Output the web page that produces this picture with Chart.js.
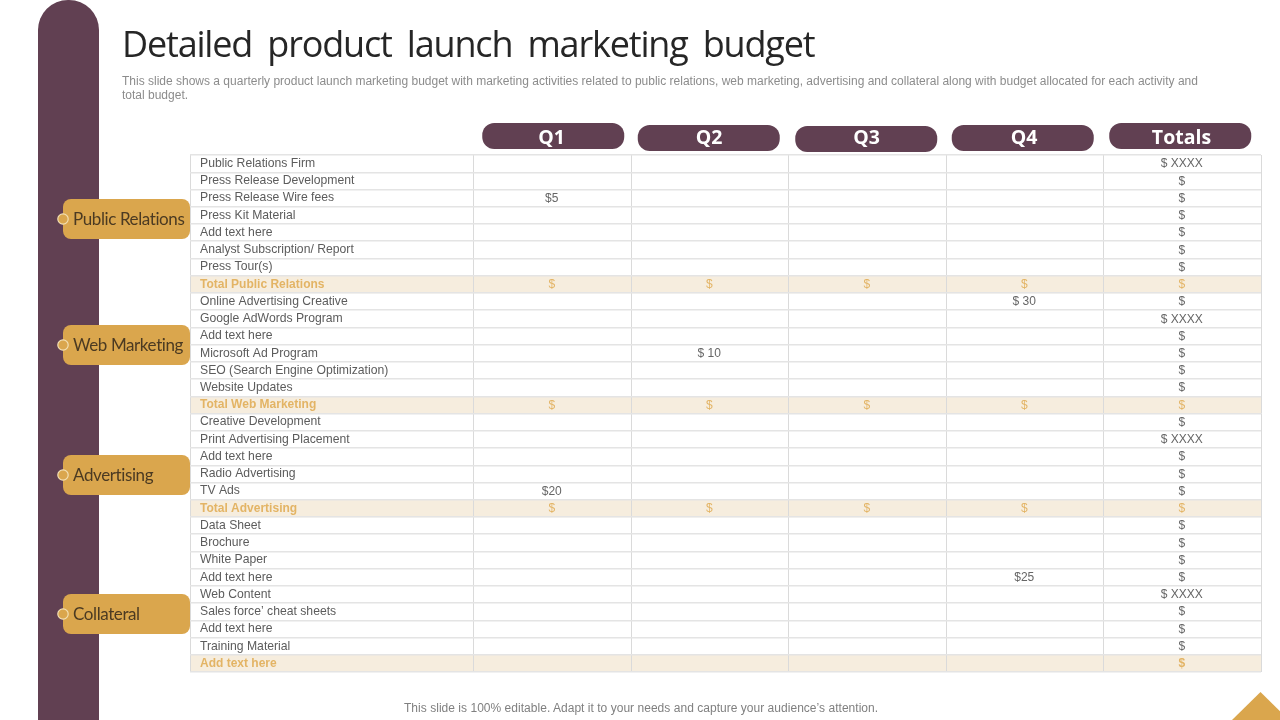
<!DOCTYPE html>
<html><head><meta charset="utf-8">
<style>
html,body{margin:0;padding:0;background:#fff;width:1280px;height:720px;overflow:hidden}
#c{position:absolute;left:0;top:0}
.t{position:absolute;white-space:nowrap;font-family:"Liberation Sans",sans-serif}
#title{left:122px;top:20px;font:36px/48px "Open Sans",sans-serif;color:#262626;letter-spacing:-1.18px;word-spacing:7px}
#desc{left:122px;top:74px;font-size:12px;line-height:14px;color:#8c8c8c}
#foot{left:404px;top:701px;font-size:12px;line-height:14px;color:#808080;letter-spacing:.03px}
</style></head><body>
<canvas id="c" width="1280" height="720"></canvas>
<div class="t" id="title">Detailed product launch marketing budget</div>
<div class="t" id="desc">This slide shows a quarterly product launch marketing budget with marketing activities related to public relations, web marketing, advertising and collateral along with budget allocated for each activity and<br>total budget.</div>
<div class="t" id="foot">This slide is 100% editable. Adapt it to your needs and capture your audience’s attention.</div>
<script src="https://cdn.jsdelivr.net/npm/chart.js@4/dist/chart.umd.min.js"></script>
<script>
const rowLabels=["Public Relations Firm","Press Release Development","Press Release Wire fees","Press Kit Material","Add text here","Analyst Subscription/ Report","Press Tour(s)","Total Public Relations","Online Advertising Creative","Google AdWords Program","Add text here","Microsoft Ad Program","SEO (Search Engine Optimization)","Website Updates","Total Web Marketing","Creative Development","Print Advertising Placement","Add text here","Radio Advertising","TV Ads","Total Advertising","Data Sheet","Brochure","White Paper","Add text here","Web Content","Sales force’ cheat sheets","Add text here","Training Material","Add text here"];
const columnLabels=["Q1","Q2","Q3","Q4","Totals"];
const totalRows=[7,14,20,29];
const q1Values=["","","$5","","","","","$","","","","","","","$","","","","","$20","$","","","","","","","","",""];
const q2Values=["","","","","","","","$","","","","$ 10","","","$","","","","","","$","","","","","","","","",""];
const q3Values=["","","","","","","","$","","","","","","","$","","","","","","$","","","","","","","","",""];
const q4Values=["","","","","","","","$","$ 30","","","","","","$","","","","","","$","","","","$25","","","","",""];
const totalValues=["$ XXXX","$","$","$","$","$","$","$","$","$ XXXX","$","$","$","$","$","$","$ XXXX","$","$","$","$","$","$","$","$","$ XXXX","$","$","$","$"];
const sectionLabels=["Public Relations","Web Marketing","Advertising","Collateral"];

const columnValues=[q1Values,q2Values,q3Values,q4Values,totalValues];
const PLUM="#614052",GOLD="#DAA64D",BAND="#F6EDDE",BANDTXT="#E3B465",TXT="#5c5c5c",NUM="#666666";
const LABEL_MIN=-1.8,VALUE_MAX=5;
const isTotal=i=>totalRows.includes(i);

function rr(ctx,x,y,w,h,r){ctx.beginPath();ctx.roundRect(x,y,w,h,r);ctx.fill();}

const slide={id:"slide",
 beforeDraw(chart){
  const ctx=chart.ctx,xs=chart.scales.x;
  ctx.save();
  ctx.fillStyle=PLUM;
  ctx.beginPath();ctx.roundRect(38,0,61,760,[30,30,0,0]);ctx.fill();
  const tops=[123,125,126,125,123],dx=[1,-1,-1,-2,-2];
  columnLabels.forEach((_,i)=>{rr(ctx,xs.getPixelForValue(i+.5)-71+dx[i],tops[i],142,26,12);});
  const tagTops=[199,325,455,594];
  sectionLabels.forEach((s,i)=>{
    const y=tagTops[i];
    ctx.fillStyle=GOLD;rr(ctx,63,y,127,40,8);
    ctx.beginPath();ctx.arc(63,y+20,5.2,0,Math.PI*2);ctx.fillStyle=GOLD;ctx.fill();
    ctx.lineWidth=1.2;ctx.strokeStyle="#F3E0B4";ctx.stroke();
    ctx.fillStyle="#4B3A22";ctx.font='17px Lato, sans-serif';ctx.letterSpacing="-0.4px";ctx.textBaseline="middle";ctx.textAlign="left";
    ctx.fillText(s,73,y+20.5);
    ctx.letterSpacing="0px";
  });
  ctx.fillStyle=GOLD;ctx.beginPath();ctx.moveTo(1232,720);ctx.lineTo(1260.5,692);ctx.lineTo(1289,720);ctx.closePath();ctx.fill();
  ctx.restore();
 },
 afterDatasetsDraw(chart){
  const ctx=chart.ctx;
  ctx.save();ctx.textAlign="center";ctx.textBaseline="middle";
  columnValues.forEach((vals,c)=>{
    const meta=chart.getDatasetMeta(c+1);
    vals.forEach((v,i)=>{
      if(!v)return;
      const p=meta.data[i];
      ctx.fillStyle=isTotal(i)?BANDTXT:NUM;
      ctx.font=(i===29?"bold ":"")+'12px "Liberation Sans", sans-serif';
      ctx.fillText(v,p.x-.5,p.y+.5);
    });
  });
  ctx.restore();
 }};

const cellSets=columnValues.map((vals,c)=>({
  type:"scatter",label:columnLabels[c],pointRadius:0,showLine:false,
  data:vals.map((v,i)=>({x:v?c+.5:null,y:rowLabels[i]}))
}));
new Chart(document.getElementById("c"),{
 data:{labels:rowLabels,datasets:[
  {type:"bar",label:"Section totals",indexAxis:"y",backgroundColor:BAND,barPercentage:1,categoryPercentage:1,borderWidth:0,
   data:rowLabels.map((_,i)=>isTotal(i)?[LABEL_MIN,VALUE_MAX]:null)},
  ...cellSets]},
 options:{responsive:false,animation:false,devicePixelRatio:1,
  layout:{padding:{left:190,right:19,top:100,bottom:48}},
  plugins:{legend:{display:false},tooltip:{enabled:false},title:{display:false}},
  scales:{
   x:{type:"linear",position:"top",min:LABEL_MIN,max:VALUE_MAX,
    afterBuildTicks(s){s.ticks=[LABEL_MIN,0,1,2,3,4,5].map(v=>({value:v}));},
    afterFit(s){s.height=55;},
    grid:{color:"#DADADA",lineWidth:1,drawTicks:false,z:1},
    border:{display:false},
    ticks:{autoSkip:false,maxRotation:0,minRotation:0,labelOffset:78,padding:5,color:"#fff",
      font:{family:'"Open Sans", sans-serif',size:19.5,weight:"bold"},
      callback:(v,i)=>i===0?"":(columnLabels[i-1]||"")}},
   y:{type:"category",offset:true,
    afterFit(s){s.width=0;},
    grid:{offset:true,color:"#E4E4E4",lineWidth:1.4,drawTicks:false,z:1},
    border:{display:false},
    ticks:{mirror:true,autoSkip:false,padding:10,z:2,
      color:c=>isTotal(c.index)?BANDTXT:TXT,
      font:c=>({family:'"Liberation Sans", sans-serif',size:isTotal(c.index)?12:12.2,weight:isTotal(c.index)?"bold":"normal"})}}
  }},
 plugins:[slide]});
</script></body></html>
